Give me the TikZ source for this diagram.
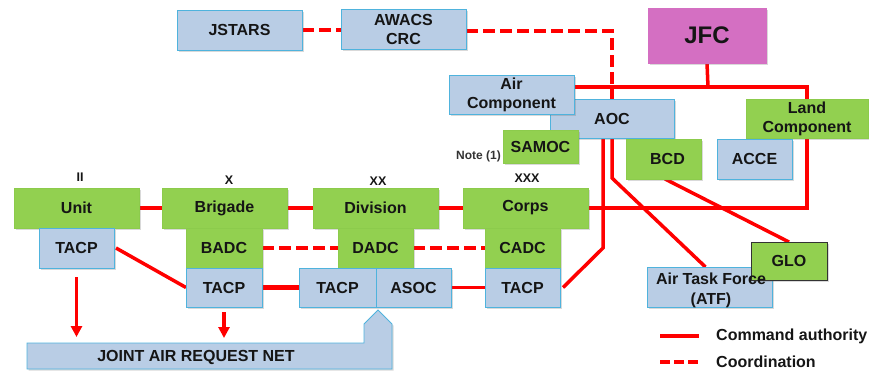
\documentclass[tikz,border=0pt]{standalone}
\usepackage{fontspec}
\setmainfont{Liberation Sans}
\usetikzlibrary{arrows.meta,shadows,backgrounds}
\definecolor{fillblue}{HTML}{B9CDE5}
\definecolor{bordblue}{HTML}{4FB3DD}
\definecolor{fillgreen}{HTML}{92D050}
\definecolor{bordgreen}{HTML}{8CCB4C}
\definecolor{jfcpink}{HTML}{D46FC2}
\definecolor{txt}{HTML}{151515}
\definecolor{cmdred}{HTML}{FF0000}
\newcommand\mkbx[7]{\node[#2, minimum width={(#5-#3)*1pt}, minimum height={(#6-#4)*1pt}] (#1) at ({(#3+#5)/2},{(#4+#6)/2}) {#7};}
\tikzset{
  boxbase/.style={line width=0.8pt, inner sep=0pt, outer sep=0pt, align=center, text=txt,
    font=\bfseries\fontsize{16}{19}\selectfont,
    drop shadow={shadow xshift=1.5pt, shadow yshift=-1.5pt, opacity=0.25, fill=black!60}},
  bbox/.style={boxbase, draw=bordblue, fill=fillblue},
  gbox/.style={boxbase, draw=bordgreen, fill=fillgreen},
  cmd/.style={draw=cmdred, line width=3.5pt},
  crd/.style={draw=cmdred, line width=3.5pt, dash pattern=on 12pt off 5pt},
  lvl/.style={text=txt, font=\bfseries\fontsize{12.5}{14}\selectfont, inner sep=0pt},
  lgd/.style={text=txt, font=\bfseries\fontsize{16}{19}\selectfont, inner sep=0pt, anchor=west},
  arr/.style={cmd, -{Triangle[length=11pt,width=11pt]}},
}
\begin{document}
\begin{tikzpicture}[x=1pt,y=-1pt]
\useasboundingbox (0,0) rectangle (869,373);
% boxes
\mkbx{jstars}{bbox}{177}{10}{302}{50}{JSTARS}
\mkbx{awacs}{bbox}{341}{9}{466}{49}{AWACS\\CRC}
\mkbx{jfc}{boxbase,draw=jfcpink,fill=jfcpink,font=\bfseries\fontsize{24}{28}\selectfont}{648}{8}{766}{63}{JFC}
\mkbx{aoc}{bbox}{550}{99}{674}{138}{AOC}
\mkbx{aircomp}{bbox}{449}{75}{574}{114}{Air\\Component}
\mkbx{samoc}{gbox}{503}{130}{578}{163}{SAMOC}
\mkbx{land}{gbox}{746}{99}{868}{138}{Land\\Component}
\mkbx{bcd}{gbox}{626}{139}{701}{179}{\hspace*{8pt}BCD}
\mkbx{acce}{bbox}{717}{139}{792}{179}{ACCE}
\mkbx{unit}{gbox}{14}{188}{139}{228}{Unit}
\mkbx{tacpa}{bbox}{39}{228}{114}{268}{TACP}
\mkbx{brigade}{gbox}{162}{188}{287}{228}{Brigade}
\mkbx{badc}{gbox}{186}{228}{262}{268}{BADC}
\mkbx{tacpb}{bbox}{186}{268}{262}{307}{TACP}
\mkbx{division}{gbox}{313}{188}{438}{228}{Division}
\mkbx{dadc}{gbox}{338}{228}{413}{268}{DADC}
\mkbx{tacpc}{bbox}{299}{268}{376}{307}{TACP}
\mkbx{asoc}{bbox}{376}{268}{451}{307}{ASOC}
\mkbx{corps}{gbox}{463}{188}{588}{228}{Corps}
\mkbx{cadc}{gbox}{485}{228}{560}{268}{CADC}
\mkbx{tacpd}{bbox}{485}{268}{560}{307}{TACP}
\mkbx{atf}{bbox}{647}{267}{772}{307}{}
\mkbx{glo}{gbox,draw=black!80}{751}{242}{827}{280}{GLO}
\node[text=txt, align=center, inner sep=0pt, font=\bfseries\fontsize{16}{20}\selectfont] (atftext) at (711,290) {Air Task Force\\(ATF)};
% level labels
\node[lvl] (lII) at (80,177) {II};
\node[lvl] (lX) at (229,180) {X};
\node[lvl] (lXX) at (378,181) {XX};
\node[lvl] (lXXX) at (527,178) {XXX};
\node[lvl, anchor=east, text=black!80, font=\bfseries\fontsize{12}{14}\selectfont] (note) at (501,156) {Note (1)};
% joint air request net
\draw[draw=bordblue, fill=fillblue, line width=0.8pt, drop shadow={shadow xshift=1.5pt, shadow yshift=-1.5pt, opacity=0.25, fill=black!60}]
  (27,343) -- (364,343) -- (364,324) -- (378,310) -- (392,324) -- (392,369) -- (27,369) -- cycle;
\coordinate (jtop) at (27,343);
\node[text=txt, inner sep=0pt, font=\bfseries\fontsize{16}{19}\selectfont] (jarn) at (196,357) {JOINT AIR REQUEST NET};
% legend
\coordinate (la) at (660,336); \coordinate (lb) at (699,336);
\coordinate (lc) at (660,362); \coordinate (ld) at (699,362);
\node[lgd] (lgdcmd) at (716,336) {Command authority};
\node[lgd] (lgdcrd) at (716,362) {Coordination};
% connectors on background
\begin{pgfonlayer}{background}
\coordinate (jfcbus) at (708,87);
\draw[cmd] (jfc.south) -- (jfcbus);
\draw[cmd] (aircomp.east |- jfcbus) -- (jfcbus -| land.north) -- (land.north);
\draw[cmd] (land.south) -- (land.south |- corps.east) -- (corps.east);
\coordinate (aa) at (603,248);
\draw[cmd] (aa |- aoc.south) -- (aa) -- ([xshift=3pt]tacpd.east);
\coordinate (ab) at (612,178);
\draw[cmd] (ab |- aoc.south) -- (ab) -- ([xshift=-4pt]atf.north);
\draw[cmd] ([xshift=1.5pt]bcd.south) -- (glo.north);
\draw[crd] (jstars.east) -- (jstars.east -| awacs.west);
\draw[crd] ([yshift=-2pt]awacs.east) -- ([yshift=-2pt]awacs.east -| aoc.north) -- (aoc.north);
\draw[cmd] (unit.east) -- (brigade.west);
\draw[cmd] (brigade.east) -- (division.west);
\draw[cmd] (division.east) -- (corps.west);
\draw[cmd] ([xshift=2pt]tacpa.east) -- (tacpb.west);
\draw[cmd, line width=4.5pt] (tacpb.east) -- (tacpc.west);
\draw[cmd] (asoc.east) -- (tacpd.west);
\draw[crd] (badc.east) -- (dadc.west);
\draw[crd] (dadc.east) -- (cadc.west);
\draw[arr] ([yshift=-9pt]tacpa.south) -- ([yshift=6pt]tacpa.south |- jtop);
\draw[arr] ([yshift=-5pt]tacpb.south) -- ([yshift=5pt]tacpb.south |- jtop);
\draw[cmd] (la) -- (lb);
\draw[cmd, dash pattern=on 10pt off 4pt] (lc) -- (ld);
\end{pgfonlayer}
\end{tikzpicture}
\end{document}
